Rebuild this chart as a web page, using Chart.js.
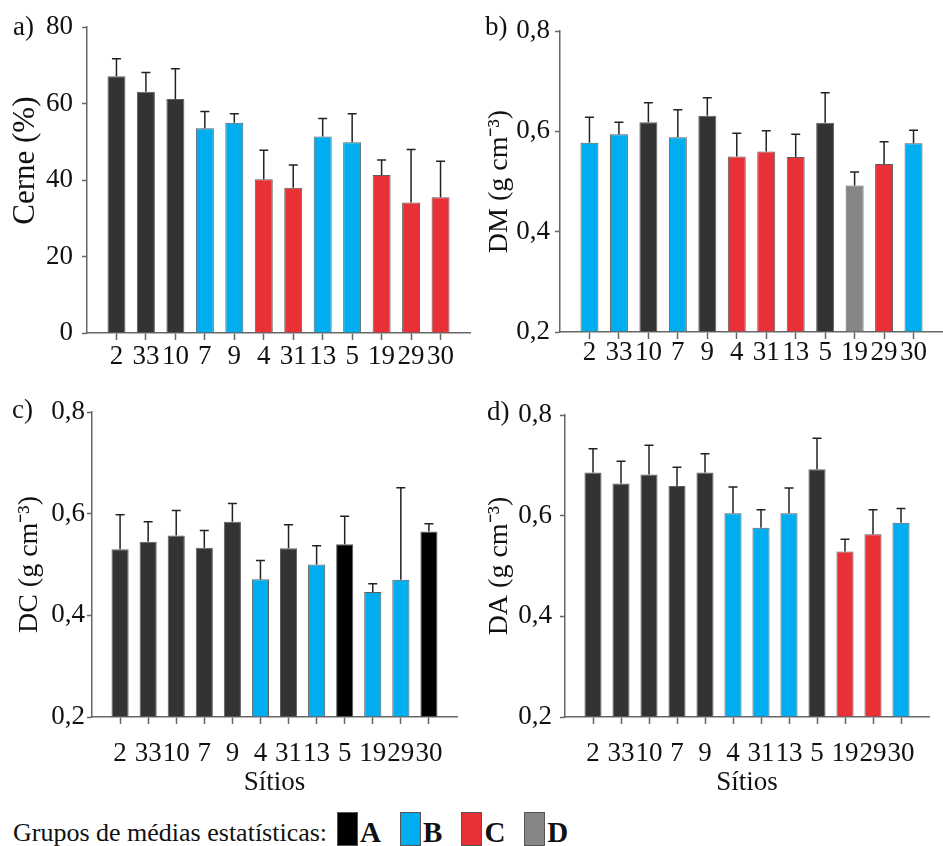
<!DOCTYPE html>
<html>
<head>
<meta charset="utf-8">
<script src="https://cdn.jsdelivr.net/npm/chart.js@4.4.1/dist/chart.umd.min.js"></script>
<style>
  body { margin: 0; background: #fff; }
  #wrap { position: relative; width: 943px; height: 846px; overflow: hidden;
          font-family: "Liberation Serif", "Times New Roman", serif; color: #111; }
  canvas { position: absolute; }
  .tag { position: absolute; font-size: 27px; line-height: 27px; }
  #legend { position: absolute; left: 13px; top: 812px; height: 34px; display: flex; align-items: flex-end; font-size: 26px; line-height: 26px; }
  #legend .box { display: inline-block; width: 19px; height: 32px; border: 1px solid #555; margin-left: 10px; }
  #legend .box:first-of-type { margin-left: 11px; }
  #legend b { font-size: 29px; line-height: 28px; margin-left: 2px; margin-right: 9px; }
</style>
</head>
<body>
<div id="wrap">
  <canvas id="cA" width="471" height="380" style="left:0;top:0"></canvas>
  <canvas id="cB" width="473" height="380" style="left:470px;top:0"></canvas>
  <canvas id="cC" width="471" height="420" style="left:0;top:380px"></canvas>
  <canvas id="cD" width="473" height="420" style="left:470px;top:380px"></canvas>
  <span class="tag" style="left:13px;top:13px">a)</span>
  <span class="tag" style="left:485px;top:13px">b)</span>
  <span class="tag" style="left:12px;top:396px">c)</span>
  <span class="tag" style="left:487px;top:398px">d)</span>
  <div id="legend"></div>
</div>
<script>
// sites (x categories), same order in all four panels
const sites = ["2", "33", "10", "7", "9", "4", "31", "13", "5", "19", "29", "30"];

// a) Cerne (%)
const cerneMean = [67.1, 63.1, 61.2, 53.5, 55.0, 40.2, 38.0, 51.4, 49.9, 41.3, 34.1, 35.5];
const cerneSd   = [4.6, 5.0, 7.9, 4.4, 2.3, 7.6, 5.9, 4.7, 7.4, 3.9, 13.9, 9.4];
const cerneGrp  = ["A", "A", "A", "B", "B", "C", "C", "B", "B", "C", "C", "C"];

// b) DM (g cm-3)
const dmMean = [0.577, 0.594, 0.618, 0.588, 0.631, 0.550, 0.560, 0.549, 0.617, 0.492, 0.535, 0.576];
const dmSd   = [0.051, 0.024, 0.039, 0.055, 0.036, 0.046, 0.041, 0.045, 0.060, 0.027, 0.044, 0.026];
const dmGrp  = ["B", "B", "A", "B", "A", "C", "C", "C", "A", "D", "C", "B"];

// c) DC (g cm-3)  ("A0" = the pure black A bars)
const dcMean = [0.530, 0.545, 0.557, 0.533, 0.584, 0.471, 0.532, 0.500, 0.540, 0.446, 0.470, 0.565];
const dcSd   = [0.068, 0.039, 0.049, 0.034, 0.036, 0.037, 0.046, 0.037, 0.055, 0.016, 0.181, 0.015];
const dcGrp  = ["A", "A", "A", "A", "A", "B", "A", "B", "A0", "B", "B", "A0"];

// d) DA (g cm-3)
const daMean = [0.686, 0.664, 0.682, 0.659, 0.686, 0.605, 0.576, 0.605, 0.692, 0.529, 0.563, 0.586];
const daSd   = [0.047, 0.044, 0.058, 0.037, 0.037, 0.052, 0.036, 0.050, 0.062, 0.024, 0.049, 0.028];
const daGrp  = ["A", "A", "A", "A", "A", "B", "B", "B", "A", "C", "C", "B"];

const cerneTicks = [0, 20, 40, 60, 80];
const densTicks = [0.2, 0.4, 0.6, 0.8];
const legendGroups = ["A", "B", "C", "D"];

const groupColors = { A: "#343233", A0: "#000000", B: "#00adee", C: "#e93037", D: "#868686" };
const legendColors = { A: "#000000", B: "#00adee", C: "#e93037", D: "#868686" };

const FONT = "'Liberation Serif', 'Times New Roman', serif";
const INK = "#111";
const AXIS = "#666";

// upper error bar (mean + sd) on every bar
const errorBars = {
  id: "errorBars",
  afterDatasetsDraw(chart) {
    const ctx = chart.ctx;
    const yScale = chart.scales.y;
    const ds = chart.data.datasets[0];
    const meta = chart.getDatasetMeta(0);
    ctx.save();
    ctx.strokeStyle = "#222";
    ctx.lineWidth = 1.5;
    meta.data.forEach((bar, i) => {
      const v = ds.data[i];
      if (v == null) return;
      const top = yScale.getPixelForValue(v + ds.errors[i]);
      ctx.beginPath();
      ctx.moveTo(bar.x, bar.y);
      ctx.lineTo(bar.x, top);
      ctx.moveTo(bar.x - 4.5, top);
      ctx.lineTo(bar.x + 4.5, top);
      ctx.stroke();
    });
    ctx.restore();
  }
};

function pad(arr) { return [null, ...arr, null]; }

function makePanel(id, cfg) {
  const last = sites.length + 1;
  return new Chart(document.getElementById(id), {
    type: "bar",
    data: {
      labels: ["", ...sites, ""],
      datasets: [{
        data: pad(cfg.mean),
        errors: pad(cfg.sd),
        backgroundColor: pad(cfg.groups.map(g => groupColors[g])),
        borderColor: "rgba(40,40,40,0.75)",
        borderWidth: 1,
        barPercentage: 0.61,
        categoryPercentage: 1,
        base: cfg.ticks[0]
      }]
    },
    options: {
      responsive: false,
      animation: false,
      devicePixelRatio: 1,
      layout: { padding: { left: 0, right: cfg.right, top: cfg.top, bottom: 0 } },
      plugins: { legend: { display: false }, tooltip: { enabled: false } },
      scales: {
        x: {
          offset: false,
          grid: {
            drawOnChartArea: false, offset: false, tickLength: 7, tickWidth: 1.5,
            tickColor: c => (c.index === 0 || c.index === last) ? "rgba(0,0,0,0)" : AXIS
          },
          border: { color: AXIS, width: 1.5 },
          ticks: { font: { family: FONT, size: 27 }, color: INK, padding: cfg.xPad,
                   maxRotation: 0, minRotation: 0, autoSkip: false },
          title: {
            display: !!cfg.xTitle, text: cfg.xTitle || "", color: INK,
            font: { family: FONT, size: 27 }, padding: { top: 0, bottom: 1 }
          },
          afterFit: s => { s.height = cfg.xHeight; }
        },
        y: {
          min: cfg.ticks[0],
          max: cfg.ticks[cfg.ticks.length - 1],
          afterBuildTicks: s => { s.ticks = cfg.ticks.map(v => ({ value: v })); },
          grid: { drawOnChartArea: false, tickLength: 5, tickWidth: 1.5, tickColor: AXIS },
          border: { color: AXIS, width: 1.5 },
          ticks: {
            font: { family: FONT, size: 27 }, color: INK, padding: cfg.yPad,
            callback: v => cfg.decimals ? v.toFixed(1).replace(".", ",") : String(v)
          },
          title: {
            display: true, text: cfg.yTitle, color: INK,
            font: { family: FONT, size: cfg.titleSize }, padding: { top: cfg.titlePad, bottom: 0 }
          },
          afterFit: s => { s.width = cfg.axisX; }
        }
      }
    },
    plugins: [errorBars]
  });
}

makePanel("cA", { mean: cerneMean, sd: cerneSd, groups: cerneGrp, ticks: cerneTicks, decimals: false,
  yTitle: "\u00a0\u00a0\u00a0\u00a0\u00a0Cerne (%)", titleSize: 31, axisX: 87, top: 27, right: 1, xHeight: 47, xPad: 1, yPad: 9, titlePad: 7 });
makePanel("cB", { mean: dmMean, sd: dmSd, groups: dmGrp, ticks: densTicks, decimals: true, titleSize: 28,
  yTitle: "DM (g cm\u207b\u00b3)", axisX: 90, top: 31, right: 0, xHeight: 48, xPad: -2, yPad: 5, titlePad: 13 });
makePanel("cC", { mean: dcMean, sd: dcSd, groups: dcGrp, ticks: densTicks, decimals: true, xTitle: "Sítios", titleSize: 28,
  yTitle: "DC (g cm\u207b\u00b3)", axisX: 92, top: 32, right: 1, xHeight: 83, xPad: 14, yPad: 2, titlePad: 13 });
makePanel("cD", { mean: daMean, sd: daSd, groups: daGrp, ticks: densTicks, decimals: true, xTitle: "Sítios", titleSize: 28,
  yTitle: "DA (g cm\u207b\u00b3)", axisX: 95, top: 35, right: 0, xHeight: 83, xPad: 14, yPad: 8, titlePad: 13 });

// legend row
const leg = document.getElementById("legend");
leg.innerHTML = "<span>Grupos de médias estatísticas:</span>" +
  legendGroups.map(g => `<span class="box" style="background:${legendColors[g]}"></span><b>${g}</b>`).join("");
</script>
</body>
</html>
